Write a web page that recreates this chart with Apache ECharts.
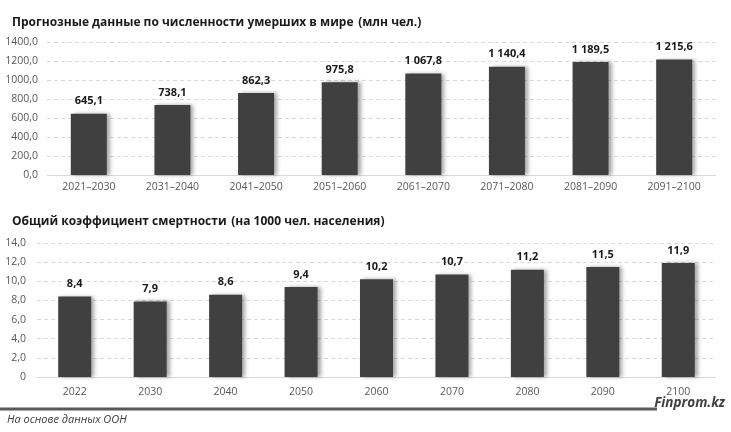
<!DOCTYPE html>
<html><head><meta charset="utf-8">
<script src="https://cdn.jsdelivr.net/npm/echarts@6/dist/echarts.min.js"></script>
<style>html,body{margin:0;padding:0;background:#fff}#c{width:731px;height:432px}</style>
</head><body><div id="c"></div>
<script>
const periods = ['2021–2030','2031–2040','2041–2050','2051–2060','2061–2070','2071–2080','2081–2090','2091–2100'];
const deaths = [645.1, 738.1, 862.3, 975.8, 1067.8, 1140.4, 1189.5, 1215.6];
const years = ['2022','2030','2040','2050','2060','2070','2080','2090','2100'];
const rates = [8.4, 7.9, 8.6, 9.4, 10.2, 10.7, 11.2, 11.5, 11.9];

const FONT = '"Open Sans", "Noto Sans", sans-serif';
function fmt1(v){
  const s = v.toFixed(1).split('.');
  const i = s[0].replace(/\B(?=(\d{3})+(?!\d))/g, ' ');
  return i + ',' + s[1];
}
const axisLabel = {color:'#595959', fontSize:10.5, fontFamily:FONT};
const barStyle = {color:'#404040', shadowColor:'rgba(0,0,0,0.35)', shadowBlur:4, shadowOffsetX:3, shadowOffsetY:0};
const labelStyle = {show:true, position:'top', distance:7, color:'#1a1a1a', fontWeight:'bold', fontSize:11, fontFamily:FONT};
const titleRich = {b:{fontWeight:'bold',fontSize:12,color:'#1a1a1a',fontFamily:FONT}, n:{fontSize:12,color:'#1a1a1a',fontFamily:FONT}};

const chart = echarts.init(document.getElementById('c'), null, {renderer:'canvas'});
chart.setOption({
  animation:false,
  textStyle:{fontFamily:FONT},
  title:[
    {text:'{b|Прогнозные данные по численности умерших в мире} {n|(млн чел.)}', left:7, top:9, textStyle:{rich:titleRich}},
    {text:'{b|Общий коэффициент смертности} {n|(на 1000 чел. населения)}', left:7, top:208, textStyle:{rich:titleRich}}
  ],
  grid:[
    {left:47, right:15, top:42, height:133},
    {left:37, right:15, top:243, height:134}
  ],
  xAxis:[
    {type:'category', gridIndex:0, data:periods, axisTick:{show:false},
     axisLine:{lineStyle:{color:'#d9d9d9'}}, axisLabel:Object.assign({margin:7}, axisLabel)},
    {type:'category', gridIndex:1, data:years, axisTick:{show:false},
     axisLine:{lineStyle:{color:'#d9d9d9'}}, axisLabel:Object.assign({margin:10}, axisLabel)}
  ],
  yAxis:[
    {type:'value', gridIndex:0, min:0, max:1400, interval:200,
     axisLabel:Object.assign({margin:9, formatter:v=>v.toFixed(1).replace('.',',')}, axisLabel),
     splitLine:{lineStyle:{color:'#d9d9d9', type:[4,3]}}},
    {type:'value', gridIndex:1, min:0, max:14, interval:2,
     axisLabel:Object.assign({margin:11, formatter:v=>v===0?'0':v.toFixed(1).replace('.',',')}, axisLabel),
     splitLine:{lineStyle:{color:'#d9d9d9', type:[4,3]}}}
  ],
  series:[
    {type:'bar', xAxisIndex:0, yAxisIndex:0, data:deaths, barWidth:36, itemStyle:barStyle,
     label:Object.assign({formatter:p=>fmt1(p.value)}, labelStyle)},
    {type:'bar', xAxisIndex:1, yAxisIndex:1, data:rates, barWidth:33, itemStyle:barStyle,
     label:Object.assign({formatter:p=>fmt1(p.value)}, labelStyle)}
  ],
  graphic:[
    {type:'rect', shape:{x:0, y:407.5, width:657, height:3}, style:{fill:'#595959'}},
    {type:'text', right:6, top:396, style:{text:'Finprom.kz', font:'italic bold 13.5px '+FONT, fill:'#404040'}},
    {type:'text', left:7, top:414, style:{text:'На основе данных ООН', font:'italic 11px '+FONT, fill:'#404040'}}
  ]
});
</script></body></html>
